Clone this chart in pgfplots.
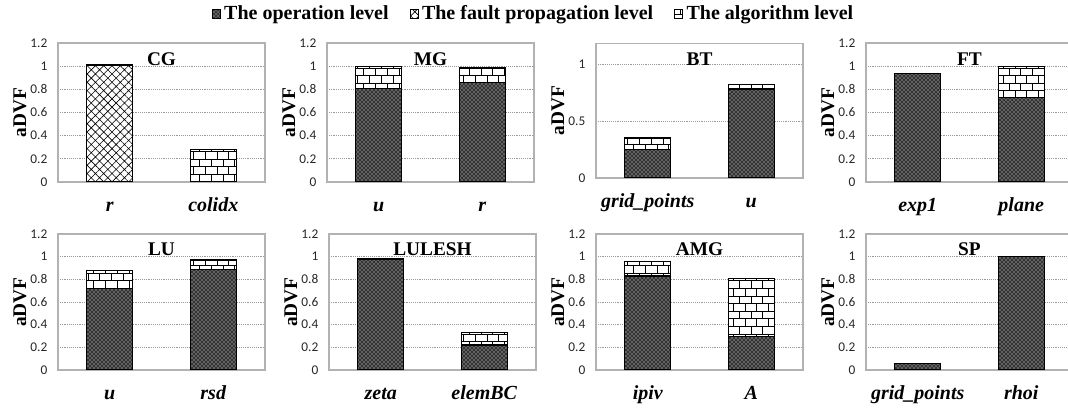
\documentclass[border=0pt]{standalone}
\usepackage{fontspec}
\setmainfont{Liberation Serif}
\newfontfamily\calfont{Carlito}
\usepackage{pgfplots}
\pgfplotsset{compat=1.18}
\usetikzlibrary{patterns,patterns.meta}

\pgfdeclarepatternformonly{mybricks}{\pgfpoint{-0.5pt}{-0.5pt}}{\pgfpoint{9.5pt}{11.5pt}}{\pgfpoint{8.8pt}{11.4pt}}{%
  \pgfsetlinewidth{0.6pt}%
  \pgfpathmoveto{\pgfpoint{0pt}{0pt}}\pgfpathlineto{\pgfpoint{8.8pt}{0pt}}%
  \pgfpathmoveto{\pgfpoint{0pt}{5.7pt}}\pgfpathlineto{\pgfpoint{8.8pt}{5.7pt}}%
  \pgfpathmoveto{\pgfpoint{0pt}{0pt}}\pgfpathlineto{\pgfpoint{0pt}{5.7pt}}%
  \pgfpathmoveto{\pgfpoint{4.4pt}{5.7pt}}\pgfpathlineto{\pgfpoint{4.4pt}{11.4pt}}%
  \pgfusepath{stroke}%
}

\pgfplotsset{
  opst/.style={draw=black, line width=0.9pt, fill=black!80, postaction={pattern=crosshatch dots, pattern color=white}},
  faultst/.style={draw=black, line width=0.9pt, fill=white, postaction={pattern={Hatch[angle=45,distance=4.4pt,line width=0.45pt]}}},
  algst/.style={draw=black, line width=0.9pt, fill=white, postaction={pattern=mybricks}},
  panel/.style={
    scale only axis, width=155.25pt, height=104.25pt,
    anchor=south west,
    ybar stacked, bar width=34.5pt,
    xmin=-0.5, xmax=1.5, xtick={0,1},
    ymin=0, ymax=1.2, ytick={0,0.2,0.4,0.6,0.8,1,1.2},
    ymajorgrids, grid style={densely dotted, gray!80, line width=0.5pt},
    axis line style={gray!60, line width=0.8pt},
    major tick length=0pt,
    /pgf/number format/assume math mode=true,
    yticklabel style={font=\calfont\fontsize{10}{12}\selectfont, text=black!85, xshift=-4.5pt},
    xticklabel style={font=\bfseries\itshape\fontsize{15}{17}\selectfont, anchor=base, yshift=-22.5pt},
    every axis y label/.style={at={(axis description cs:0,0.5)}, xshift=-28.5pt, anchor=center, rotate=90, font=\bfseries\fontsize{14.5}{16}\selectfont},
    ylabel={aDVF},
    every axis title shift=0pt,
    title style={at={(axis description cs:0.5,0.885)}, anchor=center, font=\bfseries\fontsize{14.5}{16}\selectfont},
  },
}

\begin{document}
\begin{tikzpicture}
\useasboundingbox (0,0) rectangle (801pt,307.5pt);

% CG
\begin{axis}[panel, at={(43.5pt,171pt)}, title={CG}, xticklabels={r,colidx},
  legend style={at={(2.30,1.21)}, anchor=center, draw=none, fill=none,
    legend columns=3, font=\bfseries\fontsize{15}{17}\selectfont,
    /tikz/every odd column/.append style={column sep=1pt},
    /tikz/every even column/.append style={column sep=14pt},
    inner sep=0pt},
  legend image code/.code={\path[#1, line width=0pt, draw=none] (0pt,-3.6pt) rectangle (6pt,3.6pt);},
  legend cell align=left]
\addlegendimage{opst}\addlegendentry{The operation level}
\addlegendimage{faultst}\addlegendentry{The fault propagation level}
\addlegendimage{algst}\addlegendentry{The algorithm level}
\addplot[opst] coordinates {(0,0) (1,0)};
\addplot[faultst] coordinates {(0,1.01) (1,0)};
\addplot[algst] coordinates {(0,0) (1,0.28)};
\end{axis}

% MG
\begin{axis}[panel, at={(245.25pt,171pt)}, title={MG}, xticklabels={u,r}]
\addplot[opst] coordinates {(0,0.81) (1,0.86)};
\addplot[faultst] coordinates {(0,0) (1,0)};
\addplot[algst] coordinates {(0,0.19) (1,0.13)};
\end{axis}

% BT
\begin{axis}[panel, at={(447pt,174pt)}, height=101pt, ymax=1.18, ytick={0,0.5,1}, title={BT}, xticklabels={grid\_points,u}]
\addplot[opst] coordinates {(0,0.25) (1,0.78)};
\addplot[faultst] coordinates {(0,0) (1,0)};
\addplot[algst] coordinates {(0,0.10) (1,0.04)};
\end{axis}

% FT
\begin{axis}[panel, at={(649.5pt,171pt)}, title={FT}, xticklabels={exp1,plane}]
\addplot[opst] coordinates {(0,0.94) (1,0.73)};
\addplot[faultst] coordinates {(0,0) (1,0)};
\addplot[algst] coordinates {(0,0) (1,0.27)};
\end{axis}

% LU
\begin{axis}[panel, at={(43.5pt,30pt)}, height=102pt, title={LU}, xticklabels={u,rsd}]
\addplot[opst] coordinates {(0,0.72) (1,0.89)};
\addplot[faultst] coordinates {(0,0) (1,0)};
\addplot[algst] coordinates {(0,0.16) (1,0.08)};
\end{axis}

% LULESH
\begin{axis}[panel, at={(246.75pt,30pt)}, height=102pt, title={LULESH}, xticklabels={zeta,elemBC}]
\addplot[opst] coordinates {(0,0.98) (1,0.22)};
\addplot[faultst] coordinates {(0,0) (1,0)};
\addplot[algst] coordinates {(0,0) (1,0.11)};
\end{axis}

% AMG
\begin{axis}[panel, at={(447pt,30pt)}, height=102pt, title={AMG}, xticklabels={ipiv,A}]
\addplot[opst] coordinates {(0,0.83) (1,0.295)};
\addplot[faultst] coordinates {(0,0) (1,0)};
\addplot[algst] coordinates {(0,0.125) (1,0.515)};
\end{axis}

% SP
\begin{axis}[panel, at={(649.5pt,30pt)}, height=102pt, title={SP}, xticklabels={grid\_points,rhoi}]
\addplot[opst] coordinates {(0,0.06) (1,1.0)};
\addplot[faultst] coordinates {(0,0) (1,0)};
\addplot[algst] coordinates {(0,0) (1,0)};
\end{axis}
\end{tikzpicture}
\end{document}
